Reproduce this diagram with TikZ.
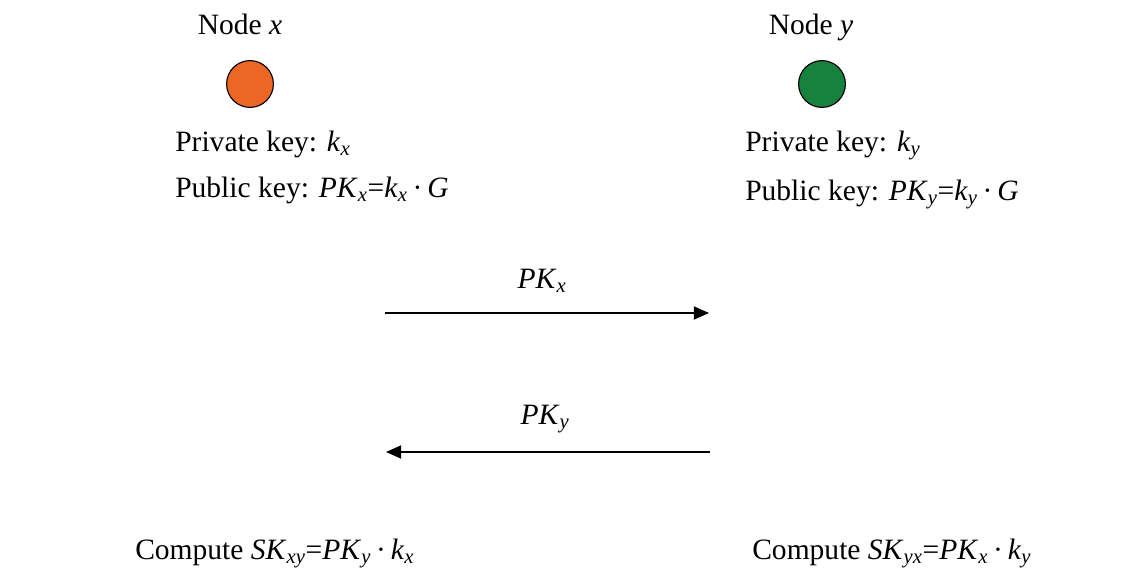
\documentclass[tikz,border=0pt]{standalone}
\usepackage{xcolor}
\usepackage{fontspec}
\setmainfont{Liberation Serif}
\usepackage{tikz}
\usetikzlibrary{shapes, arrows.meta, positioning}

\definecolor{xorange}{RGB}{236,102,36}
\definecolor{ygreen}{RGB}{22,130,62}
\newcommand{\keysub}[2]{\textit{#1}\textsubscript{\textit{#2}}}

\begin{document}
\begin{tikzpicture}[x=0.025cm,y=-0.025cm]
        \useasboundingbox (0,0) rectangle (1145,567);
        \begin{scope}[every node/.style={font=\fontsize{21}{25}\selectfont,inner sep=0pt}]
          % the two parties
          \node[anchor=base] (xname) at (240,34) {Node \textit{x}};
          \node[anchor=base] (yname) at (811,34) {Node \textit{y}};
          \node[circle,draw,thick,fill=xorange,minimum size=1.17cm] (xnode) at (250,84) {};
          \node[circle,draw,thick,fill=ygreen,minimum size=1.17cm] (ynode) at (822,84) {};
          % their keys
          \node[anchor=base west] (xpriv) at (175,151) {Private key: \keysub{k}{x}};
          \node[anchor=base west] (xpub) at (175,197) {Public key: \keysub{PK}{x}=\keysub{k}{x}\,·\,\textit{G}};
          \node[anchor=base west] (ypriv) at (745,151) {Private key: \keysub{k}{y}};
          \node[anchor=base west] (ypub) at (745,200) {Public key: \keysub{PK}{y}=\keysub{k}{y}\,·\,\textit{G}};
          % exchanged values
          \coordinate (a1) at (385,313);
          \coordinate (b1) at (709,313);
          \coordinate (a2) at (710,452);
          \coordinate (b2) at (386,452);
          \node[anchor=base] (pkx) at (542,288) {\keysub{PK}{x}};
          \node[anchor=base] (pky) at (545,424) {\keysub{PK}{y}};
          % shared secrets
          \node[anchor=base west] (xsk) at (135,559) {Compute \keysub{SK}{xy}=\keysub{PK}{y}\,·\,\keysub{k}{x}};
          \node[anchor=base west] (ysk) at (752,559) {Compute \keysub{SK}{yx}=\keysub{PK}{x}\,·\,\keysub{k}{y}};
        \end{scope}
        \begin{scope}[every path/.style={draw=black,line width=0.9pt,-{Triangle[length=0.38cm,width=0.33cm]}}]
          \path (a1) -- (b1);
          \path (a2) -- (b2);
        \end{scope}
      \end{tikzpicture}
\end{document}
